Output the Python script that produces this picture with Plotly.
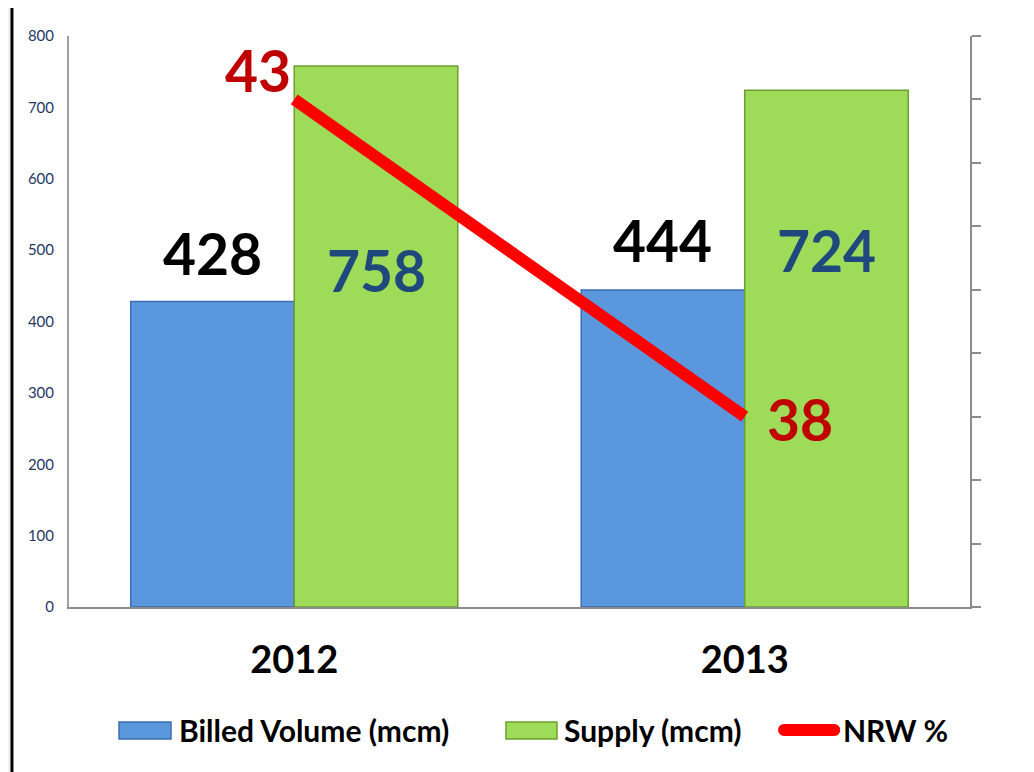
import plotly.graph_objects as go

years = ["2012", "2013"]
billed = [428, 444]
supply = [758, 724]
nrw = [43, 38]
series_names = ["Billed Volume (mcm)", "Supply (mcm)", "NRW %"]

FONT = "Lato"
BLUE, BLUE_EDGE = "#5b97dd", "#3d6db0"
GREEN, GREEN_EDGE = "#9ddb58", "#6b9f2f"
RED = "#ff0000"
bargap = 0.274
half = (1 - bargap) / 4  # offset of each bar centre from category centre

fig = go.Figure()
fig.add_trace(go.Bar(
    x=years, y=billed, name=series_names[0], showlegend=False,
    marker=dict(color=BLUE, line=dict(color=BLUE_EDGE, width=1.5)),
))
fig.add_trace(go.Bar(
    x=years, y=supply, name=series_names[1], showlegend=False,
    marker=dict(color=GREEN, line=dict(color=GREEN_EDGE, width=1.5)),
))
fig.add_trace(go.Scatter(
    x=years, y=nrw, name=series_names[2], yaxis="y2", mode="lines", showlegend=False,
    line=dict(color=RED, width=12),
))

annotations = []
# bar value labels
billed_label_y = [496, 514]
supply_label_y = [472, 500]
for i in range(len(years)):
    annotations.append(dict(x=i - half, y=billed_label_y[i], xref="x", yref="y",
                            text=str(billed[i]), showarrow=False, yanchor="middle",
                            font=dict(family=FONT, size=57, color="#000000", weight="bold")))
    annotations.append(dict(x=i + half, y=supply_label_y[i], xref="x", yref="y",
                            text=str(supply[i]), showarrow=False, yanchor="middle",
                            font=dict(family=FONT, size=57, color="#1f497d", weight="bold")))
nrw_shift = [(-36, 29), (55, -2)]
for i in range(len(years)):
    annotations.append(dict(x=i, y=nrw[i], xref="x", yref="y2",
                            text=str(nrw[i]), showarrow=False, yanchor="middle",
                            xshift=nrw_shift[i][0], yshift=nrw_shift[i][1],
                            font=dict(family=FONT, size=57, color="#c00000", weight="bold")))

# custom legend (wide swatches like the original)
LEG_Y = -0.2154
leg_font = dict(family=FONT, size=30, color="#000000", weight="bold")
leg_text_x = [0.1199, 0.5472, 0.8568]
for name, lx in zip(series_names, leg_text_x):
    annotations.append(dict(x=lx, y=LEG_Y, xref="paper", yref="paper", text=name,
                            showarrow=False, xanchor="left", yanchor="middle", font=leg_font))

rx, ry = 6 / 901, 6 / 571  # cap radius in paper units
lx0, lx1 = 0.7936, 0.8494
shapes = [
    dict(type="rect", xref="paper", yref="paper", x0=-0.0633, x1=1.08, y0=-0.32, y1=1.054,
         fillcolor="#ffffff", line=dict(color="#000000", width=3), layer="below"),
    dict(type="rect", xref="paper", yref="paper", x0=0.0555, x1=0.1132, y0=-0.2312, y1=-0.2014,
         fillcolor=BLUE, line=dict(color=BLUE_EDGE, width=1.5)),
    dict(type="rect", xref="paper", yref="paper", x0=0.485, x1=0.5416, y0=-0.2312, y1=-0.2014,
         fillcolor=GREEN, line=dict(color=GREEN_EDGE, width=1.5)),
    dict(type="line", xref="paper", yref="paper", x0=lx0, x1=lx1, y0=LEG_Y, y1=LEG_Y,
         line=dict(color=RED, width=12)),
    dict(type="circle", xref="paper", yref="paper", x0=lx0 - rx, x1=lx0 + rx,
         y0=LEG_Y - ry, y1=LEG_Y + ry, fillcolor=RED, line=dict(width=0)),
    dict(type="circle", xref="paper", yref="paper", x0=lx1 - rx, x1=lx1 + rx,
         y0=LEG_Y - ry, y1=LEG_Y + ry, fillcolor=RED, line=dict(width=0)),
]

# the page body adds an 8px offset; margins compensate so the plot lands where the original is
fig.update_layout(
    width=1034, height=772,
    margin=dict(l=61, r=72, t=28, b=173),
    paper_bgcolor="#f0f0f0",
    plot_bgcolor="rgba(0,0,0,0)",
    barmode="group", bargap=bargap, bargroupgap=0,
    showlegend=False,
    xaxis=dict(type="category", showgrid=False, showline=True, linecolor="#8c8c8c", linewidth=2,
               ticks="", tickfont=dict(family=FONT, size=38, color="#000000", weight="bold"),
               ticklabelstandoff=18),
    yaxis=dict(range=[0, 800], dtick=100, showgrid=False, showline=True, linecolor="#a0a0a0",
               linewidth=2, ticks="", zeroline=False,
               tickfont=dict(family=FONT, size=15, color="#1f3864"), ticklabelstandoff=10),
    yaxis2=dict(range=[35, 44], dtick=1, overlaying="y", side="right", showgrid=False,
                showline=True, linecolor="#8c8c8c", linewidth=2, ticks="outside", ticklen=9,
                tickwidth=2, tickcolor="#8c8c8c", showticklabels=False, zeroline=False),
    annotations=annotations,
    shapes=shapes,
)

fig.write_html("out.html")
